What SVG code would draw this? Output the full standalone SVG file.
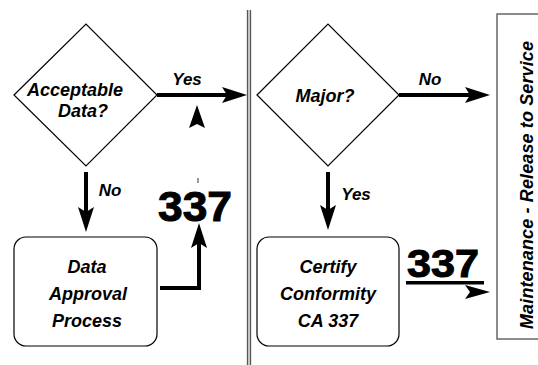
<svg xmlns="http://www.w3.org/2000/svg" width="538" height="365" viewBox="0 0 538 365">
  <style>
    .shape { fill: #ffffff; stroke: #000000; stroke-width: 1.2; }
    .lbl { font-family: "Liberation Sans", Arial, sans-serif; font-weight: bold; font-style: italic; font-size: 18px; fill: #000000; text-anchor: middle; }
    .edge { font-size: 17px; }
    .big { font-family: "Liberation Sans", Arial, sans-serif; font-weight: bold; fill: #000000; stroke: #000000; stroke-width: 1; }
    .flow { fill: none; stroke: #000000; stroke-width: 4; }
    .head { fill: #000000; stroke: none; }
  </style>
  <defs>
    <marker id="arrow" viewBox="0 0 25 16" refX="5" refY="8" markerWidth="25" markerHeight="16" markerUnits="userSpaceOnUse" orient="auto">
      <path d="M0,0 L25,8 L0,16 L5,8 z" fill="#000000"/>
    </marker>
  </defs>

  <rect width="538" height="365" fill="#ffffff"/>

  <!-- lane divider -->
  <g id="divider">
    <rect x="247" y="10" width="4" height="355" fill="#d8d8d8"/>
    <line x1="247.5" y1="10" x2="247.5" y2="365" stroke="#555555" stroke-width="1.3"/>
    <line x1="250.5" y1="10" x2="250.5" y2="365" stroke="#555555" stroke-width="1.3"/>
  </g>

  <g id="acceptable-data">
    <polygon class="shape" points="14,95 86,24 157,95 86,166"/>
    <text class="lbl" x="75" y="96">Acceptable</text>
    <text class="lbl" x="83" y="117">Data?</text>
  </g>

  <g id="data-approval">
    <rect class="shape" x="14" y="237" width="143" height="109" rx="12"/>
    <text class="lbl" x="87" y="273">Data</text>
    <text class="lbl" x="88" y="300">Approval</text>
    <text class="lbl" x="87" y="327">Process</text>
  </g>

  <g id="major">
    <polygon class="shape" points="257,95 328,24 399,95 328,166"/>
    <text class="lbl" x="325" y="102">Major?</text>
  </g>

  <g id="certify">
    <rect class="shape" x="257" y="237" width="142" height="109" rx="12"/>
    <text class="lbl" x="328" y="273">Certify</text>
    <text class="lbl" x="328" y="300">Conformity</text>
    <text class="lbl" x="328" y="327">CA 337</text>
  </g>

  <g id="release">
    <rect x="497" y="14" width="60" height="325" fill="#ffffff" stroke="#666666" stroke-width="1.5"/>
    <text class="lbl" font-size="16" transform="translate(533,185) rotate(-90)" textLength="288" lengthAdjust="spacing">Maintenance - Release to Service</text>
  </g>

  <g id="connectors">
    <!-- Acceptable Data? yes -->
    <line class="flow" x1="157" y1="95" x2="227" y2="95" marker-end="url(#arrow)"/>
    <text class="lbl edge" x="187" y="85">Yes</text>
    <path class="head" d="M197,105 L205,128 L197,124 L189,128 z"/>
    <line x1="198" y1="178" x2="198" y2="183" stroke="#000000" stroke-width="0.8"/>

    <!-- Acceptable Data? no -->
    <line class="flow" x1="86" y1="172" x2="86" y2="212" marker-end="url(#arrow)"/>
    <text class="lbl edge" x="110" y="196">No</text>

    <!-- Data approval to 337 -->
    <path class="flow" d="M160,288 H199 V243" marker-end="url(#arrow)"/>
    <text class="big" x="158" y="221" font-size="42" textLength="74" lengthAdjust="spacingAndGlyphs">337</text>

    <!-- Major? no -->
    <line class="flow" x1="399" y1="95" x2="470" y2="95" marker-end="url(#arrow)"/>
    <text class="lbl edge" x="430" y="85">No</text>

    <!-- Major? yes -->
    <line class="flow" x1="328" y1="172" x2="328" y2="210" marker-end="url(#arrow)"/>
    <text class="lbl edge" x="356" y="200">Yes</text>

    <!-- Certify to release -->
    <text class="big" x="407" y="277" font-size="38" textLength="72" lengthAdjust="spacingAndGlyphs">337</text>
    <rect x="406" y="281" width="78" height="3.5" fill="#000000"/>
    <path class="head" d="M465,285 L490,292 L465,299 L470,292 z"/>
  </g>
</svg>
